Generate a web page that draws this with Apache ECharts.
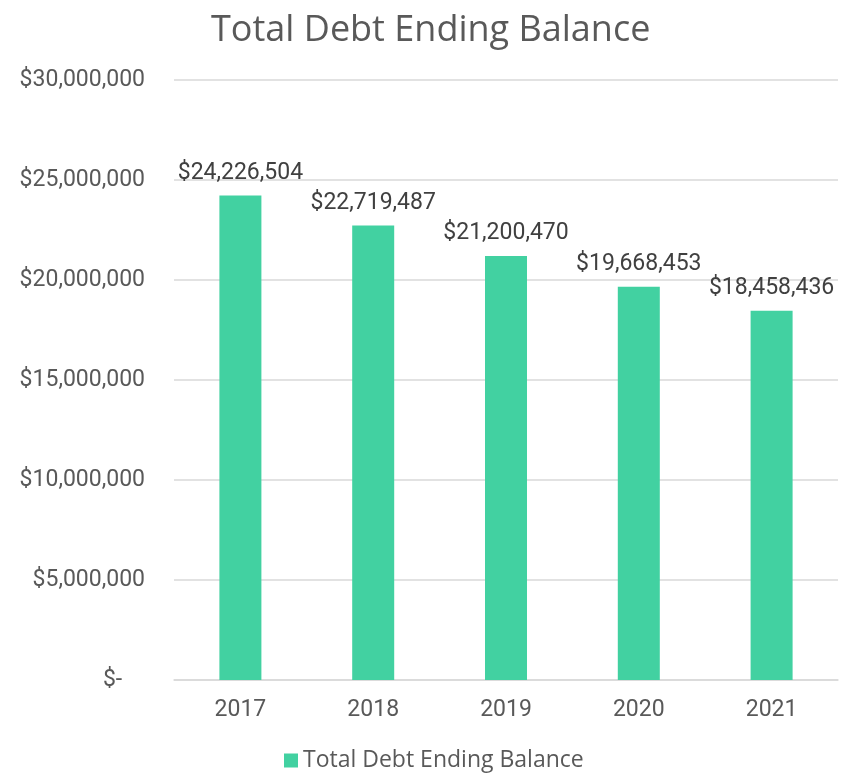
<!DOCTYPE html>
<html>
<head>
<meta charset="utf-8">
<script src="https://cdn.jsdelivr.net/npm/echarts@6/dist/echarts.min.js"></script>
<style>
  html, body { margin: 0; padding: 0; background: #fff; }
  #debt-chart { width: 846px; height: 775px; }
</style>
</head>
<body>
<div id="debt-chart"></div>
<script>
const years = ["2017", "2018", "2019", "2020", "2021"];
const endingBalance = [24226504, 22719487, 21200470, 19668453, 18458436];
const seriesName = "Total Debt Ending Balance";

function money(v) {
  if (v === 0) return "$-    ";
  return "$" + v.toLocaleString("en-US");
}

const chart = echarts.init(document.getElementById("debt-chart"));

const option = {
  animation: false,
  title: {
    text: "Total Debt Ending Balance",
    left: 206,
    top: 8,
    textStyle: {
      color: "#595959",
      fontSize: 36,
      fontWeight: "normal",
      fontFamily: "Open Sans"
    }
  },
  legend: {
    data: [seriesName],
    bottom: -2,
    left: 279,
    icon: "rect",
    itemWidth: 14,
    itemHeight: 14,
    itemGap: 6,
    textStyle: {
      color: "#595959",
      fontSize: 23,
      fontFamily: "Open Sans"
    }
  },
  grid: {
    left: 174,
    right: 8,
    top: 80,
    bottom: 95
  },
  xAxis: {
    type: "category",
    data: years,
    axisTick: { show: false },
    axisLine: { lineStyle: { color: "#d9d9d9", width: 1.5 } },
    axisLabel: {
      color: "#595959",
      fontSize: 23,
      fontFamily: "Roboto",
      margin: 19
    }
  },
  yAxis: {
    type: "value",
    min: 0,
    max: 30000000,
    interval: 5000000,
    axisLine: { show: false },
    axisTick: { show: false },
    splitLine: {
      lineStyle: { color: "#d9d9d9", width: 1.5 }
    },
    axisLabel: {
      color: "#595959",
      fontSize: 23,
      fontFamily: "Roboto",
      margin: 29,
      formatter: money
    }
  },
  series: [
    {
      name: seriesName,
      type: "bar",
      data: endingBalance,
      barWidth: 42,
      itemStyle: { color: "#42d1a1" },
      label: {
        show: true,
        position: "top",
        distance: 11,
        color: "#404040",
        fontSize: 23,
        fontFamily: "Roboto",
        formatter: (p) => money(p.value)
      }
    }
  ]
};

chart.setOption(option);
</script>
</body>
</html>
